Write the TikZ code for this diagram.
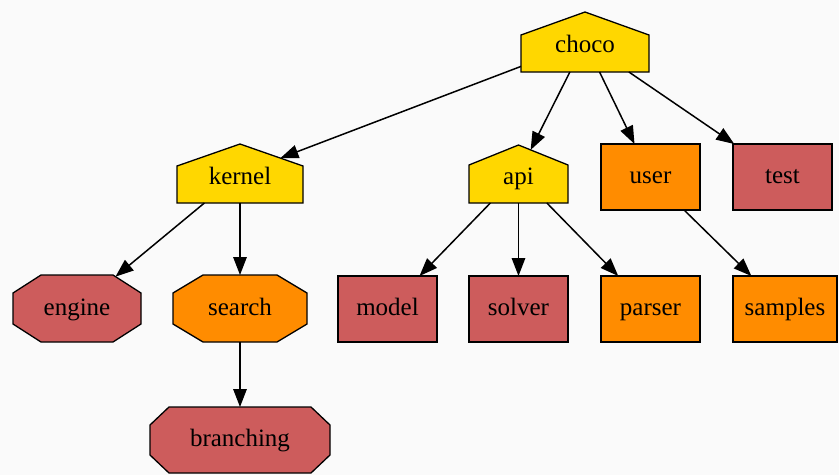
\documentclass[tikz,border=0pt]{standalone}
\usepackage{fontspec}
\setmainfont{Liberation Serif}
\usetikzlibrary{arrows.meta}
\definecolor{bgc}{HTML}{FAFAFA}
\definecolor{gvgold}{HTML}{FFD700}
\definecolor{gvred}{HTML}{CD5C5C}
\definecolor{gvorange}{HTML}{FF8C00}
\makeatletter
\pgfkeys{/pgf/house roof/.initial=20pt, /pgf/oct cx/.initial=30pt, /pgf/oct cy/.initial=18pt}
\pgfdeclareshape{gvhouse}{%
  \savedanchor\centerpoint{%
    \pgf@x=.5\wd\pgfnodeparttextbox
    \pgf@y=.5\ht\pgfnodeparttextbox
    \advance\pgf@y by -.5\dp\pgfnodeparttextbox
  }%
  \saveddimen\hw{\pgfmathsetlength\pgf@x{\pgfkeysvalueof{/pgf/minimum width}}\pgf@x=.5\pgf@x}%
  \saveddimen\hh{\pgfmathsetlength\pgf@x{\pgfkeysvalueof{/pgf/minimum height}}\pgf@x=.5\pgf@x}%
  \saveddimen\rf{\pgfmathsetlength\pgf@x{\pgfkeysvalueof{/pgf/house roof}}}%
  \anchor{center}{\centerpoint}%
  \anchor{text}{\pgfpointorigin}%
  \anchor{north}{\pgfpointadd{\centerpoint}{\pgfpoint{0pt}{\hh}}}%
  \anchor{south}{\pgfpointadd{\centerpoint}{\pgfpoint{0pt}{-\hh}}}%
  \backgroundpath{%
    \pgfpathmoveto{\pgfpointadd{\centerpoint}{\pgfpoint{-\hw}{-\hh}}}%
    \pgfpathlineto{\pgfpointadd{\centerpoint}{\pgfpoint{\hw}{-\hh}}}%
    \pgfpathlineto{\pgfpointadd{\centerpoint}{\pgfpoint{\hw}{\hh-\rf}}}%
    \pgfpathlineto{\pgfpointadd{\centerpoint}{\pgfpoint{0pt}{\hh}}}%
    \pgfpathlineto{\pgfpointadd{\centerpoint}{\pgfpoint{-\hw}{\hh-\rf}}}%
    \pgfpathclose
  }%
  \anchorborder{%
    \edef\gvdx{\the\pgf@x}\edef\gvdy{\the\pgf@y}%
    \pgfmathsetmacro\gvL{veclen(\gvdx,\gvdy)}%
    \ifdim\gvL pt<0.001pt \def\gvL{1}\def\gvdy{1pt}\fi
    \pgfmathsetmacro\gvux{\gvdx/\gvL}%
    \pgfmathsetmacro\gvuy{\gvdy/\gvL}%
    \pgfmathsetmacro\gvax{abs(\gvux)}%
    \def\gvt{5000}%
    \ifdim\gvax pt>0.01pt \pgfmathsetmacro\gvt{min(\gvt,\hw/\gvax)}\fi
    \ifdim\gvuy pt<-0.01pt \pgfmathsetmacro\gvt{min(\gvt,\hh/(-\gvuy))}\fi
    \pgfmathsetmacro\gvden{\gvuy+\gvax*\rf/\hw}%
    \ifdim\gvden pt>0.001pt \pgfmathsetmacro\gvt{min(\gvt,\hh/\gvden)}\fi
    \pgfpointadd{\centerpoint}{\pgfpoint{\gvt*\gvux}{\gvt*\gvuy}}%
  }%
}
\pgfdeclareshape{gvoctagon}{%
  \savedanchor\centerpoint{%
    \pgf@x=.5\wd\pgfnodeparttextbox
    \pgf@y=.5\ht\pgfnodeparttextbox
    \advance\pgf@y by -.5\dp\pgfnodeparttextbox
  }%
  \saveddimen\hw{\pgfmathsetlength\pgf@x{\pgfkeysvalueof{/pgf/minimum width}}\pgf@x=.5\pgf@x}%
  \saveddimen\hh{\pgfmathsetlength\pgf@x{\pgfkeysvalueof{/pgf/minimum height}}\pgf@x=.5\pgf@x}%
  \saveddimen\cx{\pgfmathsetlength\pgf@x{\pgfkeysvalueof{/pgf/oct cx}}}%
  \saveddimen\cy{\pgfmathsetlength\pgf@x{\pgfkeysvalueof{/pgf/oct cy}}}%
  \anchor{center}{\centerpoint}%
  \anchor{text}{\pgfpointorigin}%
  \anchor{north}{\pgfpointadd{\centerpoint}{\pgfpoint{0pt}{\hh}}}%
  \anchor{south}{\pgfpointadd{\centerpoint}{\pgfpoint{0pt}{-\hh}}}%
  \backgroundpath{%
    \pgfpathmoveto{\pgfpointadd{\centerpoint}{\pgfpoint{-\hw+\cx}{-\hh}}}%
    \pgfpathlineto{\pgfpointadd{\centerpoint}{\pgfpoint{\hw-\cx}{-\hh}}}%
    \pgfpathlineto{\pgfpointadd{\centerpoint}{\pgfpoint{\hw}{-\hh+\cy}}}%
    \pgfpathlineto{\pgfpointadd{\centerpoint}{\pgfpoint{\hw}{\hh-\cy}}}%
    \pgfpathlineto{\pgfpointadd{\centerpoint}{\pgfpoint{\hw-\cx}{\hh}}}%
    \pgfpathlineto{\pgfpointadd{\centerpoint}{\pgfpoint{-\hw+\cx}{\hh}}}%
    \pgfpathlineto{\pgfpointadd{\centerpoint}{\pgfpoint{-\hw}{\hh-\cy}}}%
    \pgfpathlineto{\pgfpointadd{\centerpoint}{\pgfpoint{-\hw}{-\hh+\cy}}}%
    \pgfpathclose
  }%
  \anchorborder{%
    \edef\gvdx{\the\pgf@x}\edef\gvdy{\the\pgf@y}%
    \pgfmathsetmacro\gvL{veclen(\gvdx,\gvdy)}%
    \ifdim\gvL pt<0.001pt \def\gvL{1}\def\gvdy{1pt}\fi
    \pgfmathsetmacro\gvux{\gvdx/\gvL}%
    \pgfmathsetmacro\gvuy{\gvdy/\gvL}%
    \pgfmathsetmacro\gvax{abs(\gvux)}%
    \pgfmathsetmacro\gvay{abs(\gvuy)}%
    \def\gvt{5000}%
    \ifdim\gvax pt>0.01pt \pgfmathsetmacro\gvt{min(\gvt,\hw/\gvax)}\fi
    \ifdim\gvay pt>0.01pt \pgfmathsetmacro\gvt{min(\gvt,\hh/\gvay)}\fi
    \pgfmathsetmacro\gvC{\cy*\hw/1pt+\cx*\hh/1pt-\cx*\cy/1pt}%
    \pgfmathsetmacro\gvden{\cy*\gvax+\cx*\gvay}%
    \ifdim\gvden pt>0.01pt \pgfmathsetmacro\gvt{min(\gvt,\gvC/\gvden)}\fi
    \pgfpointadd{\centerpoint}{\pgfpoint{\gvt*\gvux}{\gvt*\gvuy}}%
  }%
}
\makeatother
\tikzset{
  base/.style={draw=black, line width=1.3pt, inner sep=0pt, outer sep=0pt,
    font=\fontsize{25}{30}\selectfont, text height=18pt, text depth=5pt},
  house/.style={base, shape=gvhouse, fill=gvgold, text height=26pt, text depth=5pt},
  octo/.style={base, shape=gvoctagon, oct cy=18pt},
  boxnode/.style={base, shape=rectangle, minimum width=99pt, minimum height=66pt},
  edge/.style={draw=black, line width=1.5pt, -{Triangle[length=18pt,width=13.5pt]}}
}
\begin{document}
\begin{tikzpicture}[x=1pt,y=-1pt]
\fill[bgc] (0,0) rectangle (839,475);
\useasboundingbox (0,0) rectangle (839,475);
% houses
\node[house, minimum width=128pt, minimum height=60pt, house roof=23pt] (choco) at (585,42) {choco};
\node[house, minimum width=126pt, minimum height=59pt, house roof=22pt] (kernel) at (240,173.5) {kernel};
\node[house, minimum width=99pt, minimum height=58pt, house roof=20pt] (api) at (518.5,174) {api};
% boxes
\node[boxnode, fill=gvorange] (user) at (650.5,177) {user};
\node[boxnode, fill=gvred] (test) at (782.5,177) {test};
\node[boxnode, fill=gvred] (model) at (387.5,309) {model};
\node[boxnode, fill=gvred] (solver) at (518.5,309) {solver};
\node[boxnode, fill=gvorange] (parser) at (650.5,309) {parser};
\node[boxnode, fill=gvorange, minimum width=104pt] (samples) at (785,309) {samples};
% octagons
\node[octo, fill=gvred, minimum width=128pt, minimum height=67pt, oct cx=28pt] (engine) at (77,308.5) {engine};
\node[octo, fill=gvorange, minimum width=134pt, minimum height=67pt, oct cx=30pt] (search) at (240,308.5) {search};
\node[octo, fill=gvred, minimum width=180pt, minimum height=66pt, oct cx=19pt] (branching) at (240,440) {branching};
% edges
\draw[edge] (choco) -- (kernel);
\draw[edge] (choco) -- (api);
\draw[edge] (choco) -- (user);
\draw[edge] (choco) -- (test);
\draw[edge] (kernel) -- (engine);
\draw[edge] (kernel) -- (search);
\draw[edge] (api) -- (model);
\draw[edge] (api) -- (solver);
\draw[edge] (api) -- (parser);
\draw[edge] (user) -- (samples);
\draw[edge] (search) -- (branching);
\end{tikzpicture}
\end{document}
